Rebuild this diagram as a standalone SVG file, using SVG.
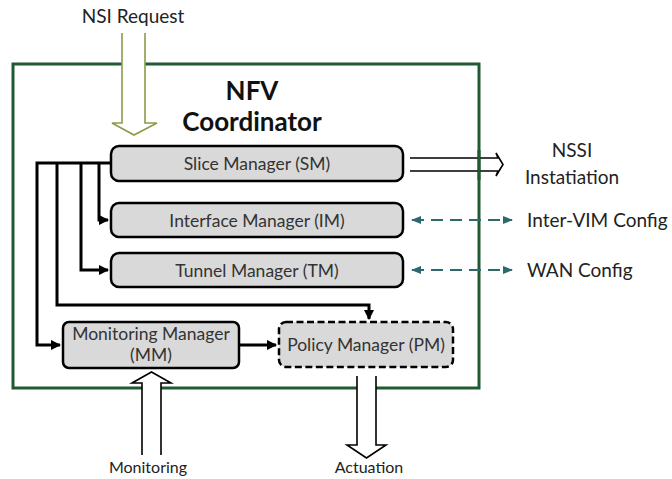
<svg xmlns="http://www.w3.org/2000/svg" width="672" height="479" viewBox="0 0 672 479">
  <defs>
    <style>
      text { font-family: Lato, "Open Sans", "Liberation Sans", sans-serif; }
      .box { fill: #d9d9d9; stroke: #000; stroke-width: 2.5; }
      .dash { stroke-dasharray: 7 3.5; }
      .lbl { font-size: 17.5px; fill: #333; text-anchor: middle; }
      .ext { font-size: 19px; fill: #222; }
      .small { font-size: 16px; fill: #222; text-anchor: middle; }
      .title { font-size: 26px; font-weight: bold; fill: #111; text-anchor: middle; }
      .wire { fill: none; stroke: #000; stroke-width: 3; }
      .hollow { fill: #fff; stroke: #000; stroke-width: 1.6; stroke-linejoin: miter; }
      .cfg { fill: none; stroke: #2d6a70; stroke-width: 2; stroke-dasharray: 12 7; }
    </style>
    <marker id="ah" viewBox="0 0 10 10" refX="9" refY="5" markerWidth="3.5" markerHeight="3.5" orient="auto-start-reverse" markerUnits="strokeWidth">
      <path d="M0,0 L10,5 L0,10 z" fill="#000"/>
    </marker>
    <marker id="th" viewBox="0 0 10 10" refX="9" refY="5" markerWidth="5" markerHeight="5" orient="auto-start-reverse" markerUnits="strokeWidth">
      <path d="M0,1 L10,5 L0,9 z" fill="#2d6a70"/>
    </marker>
  </defs>

  <!-- NFV Coordinator frame -->
  <g id="coordinator">
    <rect x="13" y="64" width="466" height="324" fill="none" stroke="#1f5a33" stroke-width="3"/>
    <text class="title" x="252" y="100">NFV</text>
    <text class="title" x="252" y="131">Coordinator</text>
  </g>

  <!-- NSSI instantiation output (drawn under the frame edge) -->
  <g id="nssi-out">
    <path class="hollow" style="fill:none" d="M410,158 H498 L496,153 L503,164.5 L496,176 L498,171 H410"/>
  </g>
  <rect x="477.5" y="150" width="3" height="30" fill="#1f5a33"/>

  <!-- connectors -->
  <g id="connectors">
    <path class="wire" d="M111,163 H37 V345 H60" marker-end="url(#ah)"/>
    <path class="wire" d="M99,163 V220 H108" marker-end="url(#ah)"/>
    <path class="wire" d="M81,163 V270 H108" marker-end="url(#ah)"/>
    <path class="wire" d="M57,163 V305 H369 V319" marker-end="url(#ah)"/>
    <path class="wire" d="M239,345 H276" marker-end="url(#ah)"/>
    <line class="cfg" x1="412" y1="220" x2="512" y2="220" marker-start="url(#th)" marker-end="url(#th)"/>
    <line class="cfg" x1="412" y1="270" x2="512" y2="270" marker-start="url(#th)" marker-end="url(#th)"/>
  </g>

  <!-- NSI request input -->
  <g id="nsi-request">
    <text class="ext" x="133" y="23" text-anchor="middle">NSI Request</text>
    <path d="M122,33 V123 H112 L134,135 L157,123 H145 V33" fill="#fff" stroke="#8a9c4a" stroke-width="1.6"/>
  </g>

  <g id="sm">
    <rect class="box" x="111" y="146" width="292" height="35" rx="8"/>
    <text class="lbl" x="257" y="169.5">Slice Manager (SM)</text>
  </g>
  <g id="im">
    <rect class="box" x="111" y="203" width="292" height="34" rx="8"/>
    <text class="lbl" x="257" y="226.5">Interface Manager (IM)</text>
  </g>
  <g id="tm">
    <rect class="box" x="111" y="253" width="292" height="34" rx="8"/>
    <text class="lbl" x="257" y="276.5">Tunnel Manager (TM)</text>
  </g>
  <g id="mm">
    <rect class="box" x="63" y="322" width="176" height="46" rx="6"/>
    <text class="lbl" x="151" y="340">Monitoring Manager</text>
    <text class="lbl" x="151" y="361">(MM)</text>
  </g>
  <g id="pm">
    <rect class="box dash" x="279" y="322" width="174" height="45" rx="7"/>
    <text class="lbl" x="366" y="350.5">Policy Manager (PM)</text>
  </g>

  <!-- external labels -->
  <g id="nssi-label">
    <text class="ext" x="572" y="157" text-anchor="middle">NSSI</text>
    <text class="ext" x="572" y="184" text-anchor="middle">Instatiation</text>
  </g>
  <g id="inter-vim">
    <text class="ext" x="527" y="227">Inter-VIM Config</text>
  </g>
  <g id="wan">
    <text class="ext" x="527" y="277">WAN Config</text>
  </g>

  <!-- monitoring input -->
  <g id="monitoring">
    <path class="hollow" d="M142,455 V383 H132 L151.5,372 L171,383 H161 V455"/>
    <text class="small" x="148" y="473">Monitoring</text>
  </g>

  <!-- actuation output -->
  <g id="actuation">
    <path class="hollow" d="M357,376 V445 H347 L366.5,458 L386,445 H376 V376"/>
    <text class="small" x="369" y="473">Actuation</text>
  </g>
</svg>
